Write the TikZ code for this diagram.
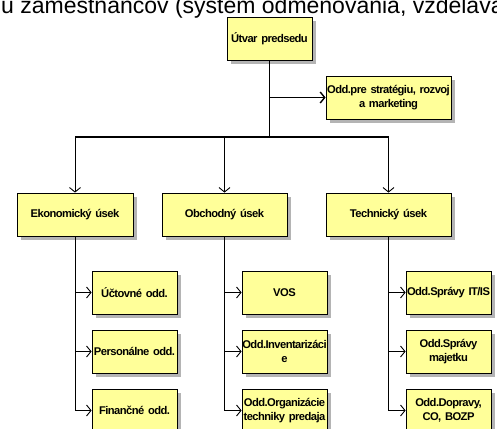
\documentclass[tikz,border=0pt]{standalone}
\usepackage{fontspec}
\setmainfont{Liberation Sans}
\newfontfamily\boxfont[LetterSpace=-5]{Liberation Sans}
\usetikzlibrary{calc, arrows.meta, shadows}
\definecolor{boxfill}{HTML}{FFFF99}
\definecolor{boxshadow}{HTML}{B4B4B4}

\begin{document}
\begin{tikzpicture}[x=1pt, y=-1pt,
		unit/.style={draw, line width=0.8pt, fill=boxfill, inner sep=0pt,
			minimum width=85pt, text width=85pt, minimum height=43pt, align=center,
			font=\boxfont\bfseries\fontsize{11.2}{13.5}\selectfont,
			general shadow={fill=boxshadow, shadow xshift=4pt, shadow yshift=-4pt}},
		wide/.style={unit, minimum width=125pt, text width=125pt},
		link/.style={line width=0.9pt, -{Straight Barb[length=4.5pt, width=11pt]}},
		trunk/.style={line width=1.8pt}]
			\def\colA{134.5};
			\def\colB{284.5};
			\def\colC{448.5};
			
			\useasboundingbox (0,0) rectangle (497,428);
			
			\node [anchor=base west, inner sep=0pt, font=\fontsize{23}{23}\selectfont] (intro) at (1,13.5) {u zamestnancov (systém odmeňovania, vzdelávania};
			
			\node [unit] (predseda) at (269.5,38.5) {Útvar predsedu};
			\node [wide] (strategia) at (388.5,97.5) {Odd.pre stratégiu, rozvoj\\a marketing};
			
			\node [wide, minimum width=116pt, text width=116pt] (eko) at (75,214.5) {Ekonomický úsek};
			\node [wide] (obch) at (224.5,214.5) {Obchodný úsek};
			\node [wide] (tech) at (388.5,214.5) {Technický úsek};
			
			\node [unit] (uctovne) at (\colA,292.5) {Účtovné odd.};
			\node [unit] (personalne) at (\colA,351.5) {Personálne odd.};
			\node [unit] (financne) at (\colA,410.5) {Finančné odd.};
			
			\node [unit] (vos) at (\colB,292.5) {VOS};
			\node [unit] (inventar) at (\colB,351.5) {Odd.Inventarizáci\\e};
			\node [unit] (organiz) at (\colB,410.5) {Odd.Organizácie\\techniky predaja};
			
			\node [unit] (spravait) at (\colC,292.5) {Odd.Správy IT/IS};
			\node [unit] (majetok) at (\colC,351.5) {Odd.Správy\\majetku};
			\node [unit] (doprava) at (\colC,410.5) {Odd.Dopravy,\\CO, BOZP};
			
			\coordinate (bus) at (269.5,137);
			
			\draw [trunk] (predseda.south) -- (bus);
			\draw [link, line width=1.4pt] (predseda.south |- strategia.west) -- (strategia.west);
			\draw [line width=1.2pt] (eko.north |- bus) -- (tech.north |- bus);
			
			\foreach \n in {eko, obch, tech}
				\draw [link] (\n.north |- bus) -- (\n.north);
			
			\foreach \p/\c in {eko/uctovne, eko/personalne, eko/financne, obch/vos, obch/inventar, obch/organiz, tech/spravait, tech/majetok, tech/doprava}
				\draw [link] (\p.south) |- (\c.west);
		\end{tikzpicture}
\end{document}
